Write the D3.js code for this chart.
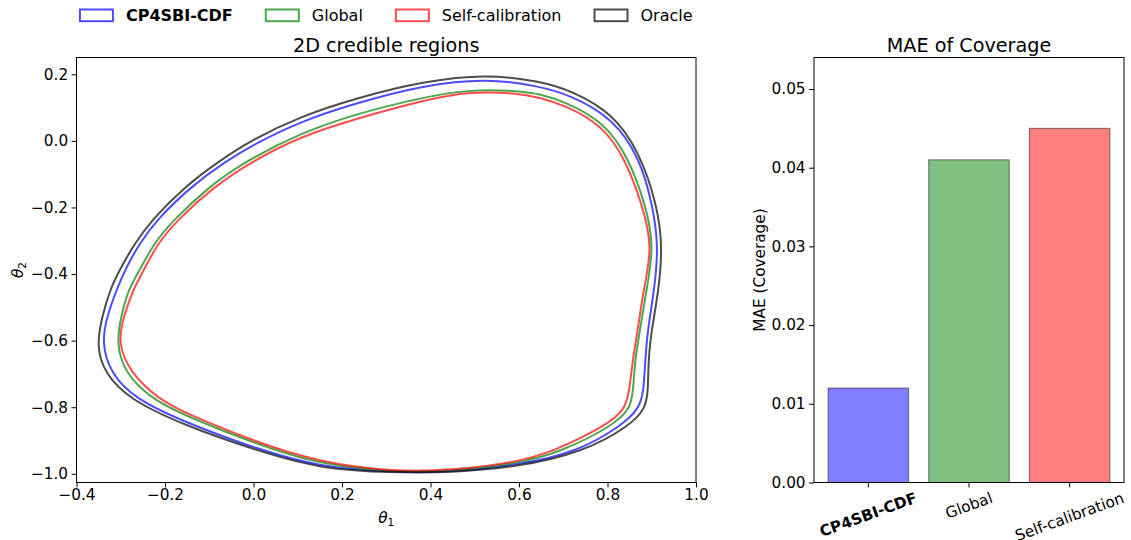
<!DOCTYPE html>
<html><head><meta charset="utf-8">
<script src="https://cdn.jsdelivr.net/npm/d3@7"></script>
<style>
body{margin:0;background:#fff}
svg{display:block}
text{font-family:"DejaVu Sans",sans-serif;fill:#000}
</style>
</head><body>
<svg id="c" width="1131" height="540"></svg>
<script>
// ---------- data ----------
const seriesNames = ["CP4SBI-CDF", "Global", "Self-calibration", "Oracle"];
const seriesColors = ["#0000ff", "#008000", "#ff0000", "#000000"];

const cp4sbiX = [-0.343,-0.331,-0.309,-0.290,-0.259,-0.219,-0.141,-0.064,0.006,0.105,0.233,0.384,0.527,0.647,0.715,0.813,0.873,0.901,0.916,0.905,0.892,0.885,0.882,0.871,0.832,0.731,0.595,0.444,0.320,0.146,-0.004,-0.155,-0.268,-0.324];
const cp4sbiY = [-0.605,-0.526,-0.446,-0.386,-0.311,-0.237,-0.137,-0.062,-0.007,0.058,0.114,0.167,0.188,0.164,0.138,0.068,-0.052,-0.187,-0.316,-0.455,-0.556,-0.656,-0.754,-0.805,-0.855,-0.935,-0.975,-0.994,-0.996,-0.980,-0.920,-0.845,-0.775,-0.696];

const globalX = [-0.310,-0.299,-0.283,-0.256,-0.227,-0.181,-0.100,-0.019,0.105,0.233,0.384,0.489,0.602,0.647,0.704,0.794,0.848,0.885,0.906,0.887,0.875,0.862,0.858,0.851,0.813,0.693,0.595,0.444,0.320,0.146,-0.004,-0.155,-0.230,-0.292];
const globalY = [-0.605,-0.526,-0.446,-0.386,-0.311,-0.237,-0.137,-0.062,0.023,0.082,0.131,0.155,0.150,0.141,0.118,0.055,-0.053,-0.187,-0.316,-0.455,-0.556,-0.656,-0.754,-0.805,-0.855,-0.935,-0.970,-0.992,-0.995,-0.972,-0.905,-0.825,-0.775,-0.696];

const selfcalX = [-0.307,-0.293,-0.272,-0.247,-0.218,-0.172,-0.089,-0.004,0.105,0.233,0.384,0.489,0.602,0.647,0.701,0.789,0.841,0.877,0.903,0.880,0.870,0.857,0.849,0.840,0.798,0.674,0.595,0.444,0.320,0.146,-0.004,-0.155,-0.215,-0.279];
const selfcalY = [-0.605,-0.526,-0.446,-0.386,-0.311,-0.237,-0.137,-0.062,0.013,0.067,0.122,0.149,0.143,0.129,0.109,0.047,-0.057,-0.187,-0.316,-0.455,-0.556,-0.656,-0.754,-0.805,-0.855,-0.935,-0.965,-0.990,-0.994,-0.965,-0.900,-0.817,-0.775,-0.696];

const oracleX = [-0.355,-0.342,-0.324,-0.302,-0.270,-0.230,-0.155,-0.0795,-0.004,0.105,0.233,0.384,0.527,0.647,0.715,0.813,0.873,0.911,0.925,0.915,0.901,0.892,0.892,0.885,0.851,0.745,0.595,0.444,0.320,0.146,-0.004,-0.155,-0.283,-0.337];
const oracleY = [-0.616,-0.526,-0.446,-0.386,-0.311,-0.237,-0.137,-0.062,0.003,0.073,0.129,0.179,0.201,0.179,0.153,0.083,-0.037,-0.187,-0.316,-0.455,-0.556,-0.656,-0.754,-0.805,-0.855,-0.935,-0.980,-0.996,-0.997,-0.985,-0.925,-0.855,-0.775,-0.696];

const barCategories = ["CP4SBI-CDF", "Global", "Self-calibration"];
const barValues = [0.012, 0.041, 0.045];
const barColors = ["#0000ff", "#008000", "#ff0000"];

const xTicksLeft = [-0.4, -0.2, 0.0, 0.2, 0.4, 0.6, 0.8, 1.0];
const yTicksLeft = [-1.0, -0.8, -0.6, -0.4, -0.2, 0.0, 0.2];
const yTicksRight = [0.00, 0.01, 0.02, 0.03, 0.04, 0.05];

// ---------- layout ----------
const svg = d3.select("#c");
const TICK_FS = 15.3, TITLE_FS = 19.2, LEG_FS = 16;
const L = {x0: 76.5, x1: 696, y0: 57.5, y1: 482.5};
const R = {x0: 814, x1: 1124, y0: 57.5, y1: 482.5};

const xL = d3.scaleLinear().domain([-0.4, 1.0]).range([L.x0, L.x1]);
const yL = d3.scaleLinear().domain([-1.026, 0.2504]).range([L.y1, L.y0]);
const xR = d3.scaleBand().domain(barCategories).range([R.x0, R.x1]).paddingInner(0.2).paddingOuter(0.14);
const yR = d3.scaleLinear().domain([0, 0.054]).range([R.y1, R.y0]);

const fmtMinus = s => s.replace("-", "\u2212");

// ---------- left panel ----------
const gl = svg.append("g");
const series = [
  {x: cp4sbiX, y: cp4sbiY},
  {x: globalX, y: globalY},
  {x: selfcalX, y: selfcalY},
  {x: oracleX, y: oracleY}
];
const line = d3.line().x(d => xL(d[0])).y(d => yL(d[1])).curve(d3.curveBasisClosed);
series.forEach((s, i) => {
  const pts = s.x.map((v, k) => [v, s.y[k]]);
  gl.append("path").attr("d", line(pts)).attr("fill", "none")
    .attr("stroke", seriesColors[i]).attr("stroke-opacity", 0.7).attr("stroke-width", 2);
});

const axBL = d3.axisBottom(xL).tickValues(xTicksLeft).tickSize(4.9).tickPadding(1.8)
  .tickFormat(d => fmtMinus(d3.format(".1f")(d)));
gl.append("g").attr("transform", `translate(0,${L.y1})`).call(axBL);
const axLL = d3.axisLeft(yL).tickValues(yTicksLeft).tickSize(4.9).tickPadding(3.5)
  .tickFormat(d => fmtMinus(d3.format(".1f")(d)));
gl.append("g").attr("transform", `translate(${L.x0},0)`).call(axLL);

gl.append("rect").attr("x", L.x0).attr("y", L.y0).attr("width", L.x1 - L.x0).attr("height", L.y1 - L.y0)
  .attr("fill", "none").attr("stroke", "#000").attr("stroke-width", 1);

gl.append("text").attr("x", (L.x0 + L.x1) / 2).attr("y", 52).attr("text-anchor", "middle")
  .attr("font-size", TITLE_FS).text("2D credible regions");

const t1 = gl.append("text").attr("x", (L.x0 + L.x1) / 2).attr("y", 523).attr("text-anchor", "middle").attr("font-size", TICK_FS);
t1.append("tspan").attr("font-style", "italic").text("θ");
t1.append("tspan").attr("font-size", 10.5).attr("dy", 3).text("1");

const t2 = gl.append("text").attr("transform", "translate(23,270) rotate(-90)").attr("text-anchor", "middle").attr("font-size", TICK_FS);
t2.append("tspan").attr("font-style", "italic").text("θ");
t2.append("tspan").attr("font-size", 10.5).attr("dy", 3).text("2");

// ---------- right panel ----------
const gr = svg.append("g");
gr.selectAll("rect.bar").data(barCategories).join("rect").attr("class", "bar")
  .attr("x", d => xR(d)).attr("width", xR.bandwidth())
  .attr("y", (d, i) => yR(barValues[i])).attr("height", (d, i) => yR(0) - yR(barValues[i]))
  .attr("fill", (d, i) => barColors[i]).attr("fill-opacity", 0.5)
  .attr("stroke", "#000").attr("stroke-opacity", 0.5).attr("stroke-width", 1);

const axBR = d3.axisBottom(xR).tickSize(4.9).tickFormat("");
gr.append("g").attr("transform", `translate(0,${R.y1})`).call(axBR);
const axLR = d3.axisLeft(yR).tickValues(yTicksRight).tickSize(4.9).tickPadding(3.5)
  .tickFormat(d3.format(".2f"));
gr.append("g").attr("transform", `translate(${R.x0},0)`).call(axLR);

gr.append("rect").attr("x", R.x0).attr("y", R.y0).attr("width", R.x1 - R.x0).attr("height", R.y1 - R.y0)
  .attr("fill", "none").attr("stroke", "#000").attr("stroke-width", 1);

gr.append("text").attr("x", (R.x0 + R.x1) / 2).attr("y", 52).attr("text-anchor", "middle")
  .attr("font-size", TITLE_FS).text("MAE of Coverage");

gr.append("text").attr("transform", `translate(765,${(R.y0 + R.y1) / 2}) rotate(-90)`).attr("text-anchor", "middle")
  .attr("font-size", TICK_FS).text("MAE (Coverage)");

// rotated category labels
const ang = 20 * Math.PI / 180;
barCategories.forEach((c, i) => {
  const cx = xR(c) + xR.bandwidth() / 2;
  const t = gr.append("text").attr("text-anchor", "middle").attr("dominant-baseline", "central")
    .attr("font-size", TICK_FS).attr("font-weight", i === 0 ? "bold" : "normal").text(c);
  const w = t.node().getComputedTextLength();
  const h = TICK_FS * 1.17;
  const hr = w * Math.sin(ang) + h * Math.cos(ang);
  const top = R.y1 + 6.5;
  t.attr("transform", `translate(${cx},${top + hr / 2}) rotate(-20)`);
});

// ---------- styling of axes ----------
svg.selectAll(".domain").remove();
svg.selectAll(".tick line").attr("stroke", "#000").attr("stroke-width", 1);
svg.selectAll(".tick text").attr("font-size", TICK_FS).attr("font-family", "DejaVu Sans").attr("fill", "#000");

// ---------- legend ----------
const gLeg = svg.append("g");
const items = [];
seriesNames.forEach((n, i) => {
  const g = gLeg.append("g");
  g.append("rect").attr("x", 0).attr("y", 9.5).attr("width", 33).attr("height", 11.7)
    .attr("fill", "none").attr("stroke", seriesColors[i]).attr("stroke-opacity", 0.7).attr("stroke-width", 2);
  const t = g.append("text").attr("x", 46).attr("y", 21).attr("font-size", LEG_FS)
    .attr("font-weight", i === 0 ? "bold" : "normal").text(n);
  const w = 46 + t.node().getComputedTextLength();
  items.push({g, w});
});
const gap = 33;
const total = items.reduce((a, b) => a + b.w, 0) + gap * (items.length - 1);
let x = (L.x0 + L.x1) / 2 - total / 2;
items.forEach(it => { it.g.attr("transform", `translate(${x},0)`); x += it.w + gap; });
</script>
</body></html>
